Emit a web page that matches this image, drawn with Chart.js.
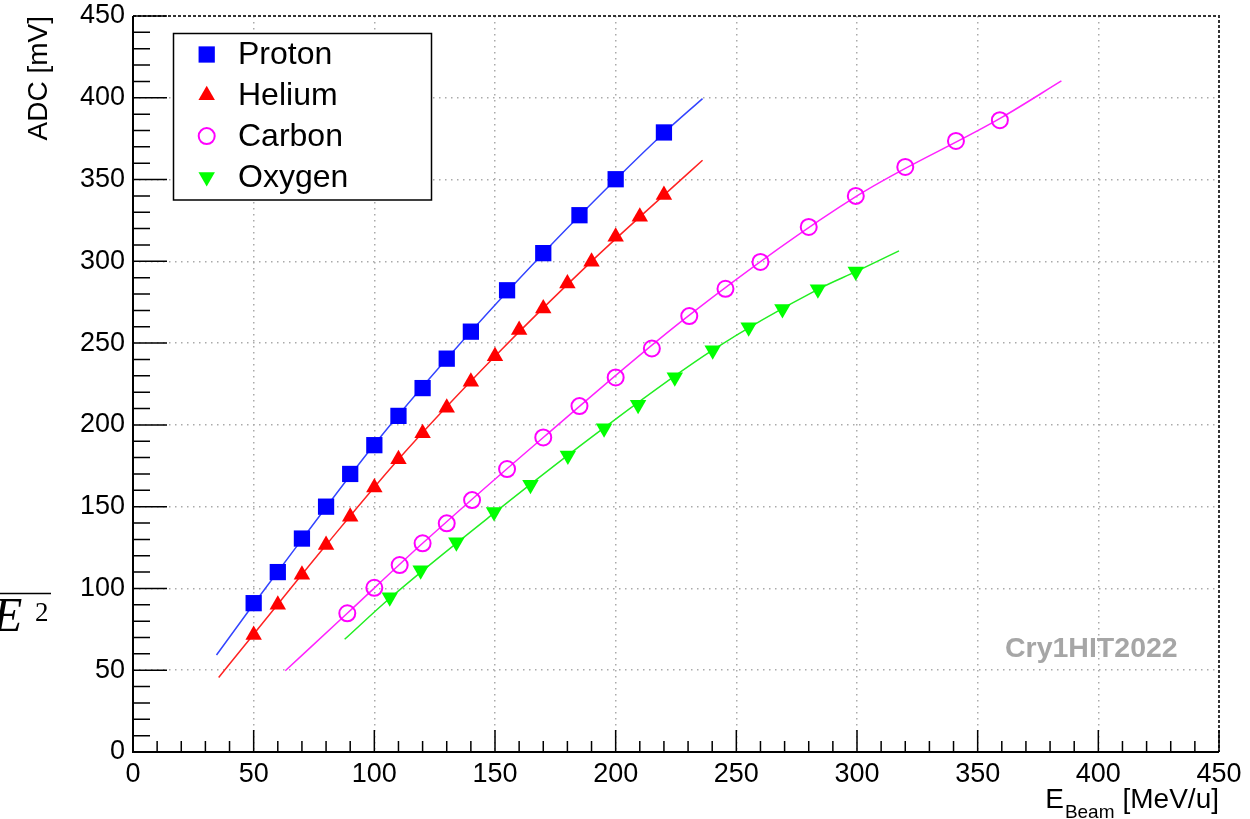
<!DOCTYPE html>
<html>
<head>
<meta charset="utf-8">
<title>ADC vs beam energy</title>
<script src="https://cdn.jsdelivr.net/npm/chart.js@4.4.1/dist/chart.umd.min.js"></script>
<style>
  html, body { margin: 0; padding: 0; background: #fff; }
  #wrap { position: relative; width: 1250px; height: 819px; }
</style>
</head>
<body>
<div id="wrap"><canvas id="chart" width="1250" height="819"></canvas></div>
<script>
// beam energy [MeV/u] and ADC amplitude [mV]
const protonE = [50, 60, 70, 80, 90, 100, 110, 120, 130, 140, 155, 170, 185, 200, 220];
const protonADC = [91, 110, 130.5, 150, 170, 187.6, 205.5, 222.5, 240.5, 257, 282.3, 305, 328.2, 350.2, 378.8];

const heliumE = [50, 60, 70, 80, 90, 100, 110, 120, 130, 140, 150, 160, 170, 180, 190, 200, 210, 220];
const heliumADC = [71.6, 90, 108.3, 126.6, 143.9, 161.7, 179, 194.9, 210.5, 226.4, 242, 258, 271.2, 286.5, 299.8, 315.1, 327.3, 340.5];

const carbonE = [88.8, 100, 110.5, 120, 130, 140.5, 155, 170, 185, 200, 215, 230.5, 245.5, 260, 280, 299.5, 320, 341, 359.2];
const carbonADC = [84.8, 100.4, 114.3, 127.6, 139.8, 154, 173, 192.3, 211.5, 229, 246.7, 266.5, 283.2, 299.6, 321, 340, 357.7, 373.6, 386.3];

const oxygenE = [106.4, 119.2, 134, 149.6, 164.7, 180.2, 195.2, 209.3, 224.5, 240.2, 255.1, 269.1, 283.8, 299.5];
const oxygenADC = [94.6, 111.1, 128.2, 146.7, 163.4, 181.3, 198, 212.3, 229.2, 245.7, 259.7, 270.9, 282.9, 293.8];

// fit curves, sampled along the drawn lines
const protonFitE = [34.6, 50, 70, 100, 130, 170, 200, 220, 236];
const protonFitADC = [59.3, 90.5, 130, 188, 240.5, 305, 350, 378.5, 399.5];
const heliumFitE = [35.5, 50, 80, 110, 150, 190, 220, 236];
const heliumFitADC = [45.6, 72, 126.5, 179, 242, 300, 340.5, 361.8];
const carbonFitE = [63.1, 88.8, 120, 170, 230, 300, 360, 384.7];
const carbonFitADC = [49.7, 84.8, 127.6, 192.3, 266.5, 340, 388, 410.3];
const oxygenFitE = [87.7, 106.4, 150, 195, 240, 284, 300, 317.4];
const oxygenFitADC = [68.9, 94, 146.5, 198, 245.5, 283, 294, 306.4];

const axisMin = 0;
const axisMax = 450;
const majorStep = 50;
const minorStep = 10;

const toPoints = (xs, ys) => xs.map((x, i) => ({ x: x, y: ys[i] }));

const FONT = '"Liberation Sans", Arial, Helvetica, sans-serif';

const markerSets = [
  { label: "Proton", data: toPoints(protonE, protonADC), pointStyle: "rect", pointRadius: 11.5,
    backgroundColor: "#0000ff", borderColor: "#0000ff", pointBorderWidth: 0, rotation: 0 },
  { label: "Helium", data: toPoints(heliumE, heliumADC), pointStyle: "triangle", pointRadius: 9.5,
    backgroundColor: "#ff0000", borderColor: "#ff0000", pointBorderWidth: 0, rotation: 0 },
  { label: "Carbon", data: toPoints(carbonE, carbonADC), pointStyle: "circle", pointRadius: 8,
    backgroundColor: "rgba(0,0,0,0)", borderColor: "#ff00ff", pointBorderWidth: 2, rotation: 0 },
  { label: "Oxygen", data: toPoints(oxygenE, oxygenADC), pointStyle: "triangle", pointRadius: 9.5,
    backgroundColor: "#00ff00", borderColor: "#00ff00", pointBorderWidth: 0, rotation: 180 },
];

const fitSets = [
  { data: toPoints(protonFitE, protonFitADC), color: "#3344ff" },
  { data: toPoints(heliumFitE, heliumFitADC), color: "#ff2222" },
  { data: toPoints(carbonFitE, carbonFitADC), color: "#ff22ff" },
  { data: toPoints(oxygenFitE, oxygenFitADC), color: "#22ee22" },
];

// frame, inward ticks, legend box and the extra labels
const decorations = {
  id: "decorations",
  afterDatasetsDraw(chart) {
    const ctx = chart.ctx;
    const a = chart.chartArea;
    const xs = chart.scales.x;
    const ys = chart.scales.y;
    ctx.save();

    // top / right frame: dashed
    ctx.strokeStyle = "#333";
    ctx.lineWidth = 2;
    ctx.setLineDash([3, 2]);
    ctx.beginPath();
    ctx.moveTo(a.left, a.top);
    ctx.lineTo(a.right, a.top);
    ctx.lineTo(a.right, a.bottom);
    ctx.stroke();

    // left / bottom axes: solid
    ctx.setLineDash([]);
    ctx.strokeStyle = "#000";
    ctx.beginPath();
    ctx.moveTo(a.left, a.top);
    ctx.lineTo(a.left, a.bottom);
    ctx.lineTo(a.right, a.bottom);
    ctx.stroke();

    // ticks pointing into the plot
    ctx.lineWidth = 1.5;
    ctx.beginPath();
    for (let v = axisMin; v <= axisMax; v += minorStep) {
      const major = v % majorStep === 0;
      const px = xs.getPixelForValue(v);
      ctx.moveTo(px, a.bottom);
      ctx.lineTo(px, a.bottom - (major ? 22 : 11));
      const py = ys.getPixelForValue(v);
      ctx.moveTo(a.left, py);
      ctx.lineTo(a.left + (major ? 34 : 17), py);
    }
    ctx.stroke();

    // legend
    const lx = 173.5, ly = 33.5, lw = 258, lh = 166.5;
    ctx.fillStyle = "#fff";
    ctx.fillRect(lx, ly, lw, lh);
    ctx.strokeStyle = "#000";
    ctx.lineWidth = 1.5;
    ctx.strokeRect(lx, ly, lw, lh);
    ctx.font = "32px " + FONT;
    ctx.textBaseline = "middle";
    ctx.textAlign = "left";
    markerSets.forEach((s, i) => {
      const cy = 54.5 + i * 40.8;
      ctx.fillStyle = s.backgroundColor;
      ctx.strokeStyle = s.borderColor;
      ctx.lineWidth = s.pointBorderWidth;
      Chart.helpers.drawPoint(ctx, {
        pointStyle: s.pointStyle, radius: s.pointRadius,
        rotation: s.rotation, borderWidth: s.pointBorderWidth
      }, 206.7, cy);
      ctx.fillStyle = "#000";
      ctx.fillText(s.label, 238, cy + 1);
    });

    // watermark
    ctx.fillStyle = "#a6a6a6";
    ctx.font = "bold 28.5px " + FONT;
    ctx.textBaseline = "alphabetic";
    ctx.fillText("Cry1HIT2022", 1005, 657);

    // x axis title with subscript, right aligned to the frame
    ctx.fillStyle = "#000";
    ctx.font = "28px " + FONT;
    const unit = "[MeV/u]";
    const xUnit = a.right - ctx.measureText(unit).width;
    ctx.fillText(unit, xUnit, 808);
    ctx.font = "19px " + FONT;
    const xBeam = xUnit - 8 - ctx.measureText("Beam").width;
    ctx.fillText("Beam", xBeam, 818);
    ctx.font = "28px " + FONT;
    ctx.fillText("E", xBeam - ctx.measureText("E").width - 1, 808);

    // y axis title, rotated, ending at the top of the frame
    ctx.save();
    ctx.translate(47, a.top);
    ctx.rotate(-Math.PI / 2);
    ctx.textAlign = "right";
    ctx.fillText("ADC [mV]", 0, 0);
    ctx.restore();

    // stray formula fragment at the left edge
    ctx.strokeStyle = "#000";
    ctx.lineWidth = 1.5;
    ctx.beginPath();
    ctx.moveTo(0, 593.5);
    ctx.lineTo(51, 593.5);
    ctx.stroke();
    ctx.font = 'italic 48px "Liberation Serif", serif';
    ctx.fillText("E", -7, 631);
    ctx.font = '27px "Liberation Serif", serif';
    ctx.fillText("2", 35, 621);

    ctx.restore();
  }
};

const ctx = document.getElementById("chart").getContext("2d");

new Chart(ctx, {
  type: "scatter",
  data: {
    datasets: [
      ...markerSets.map((s) => ({
        label: s.label,
        data: s.data,
        showLine: false,
        pointStyle: s.pointStyle,
        pointRadius: s.pointRadius,
        pointRotation: s.rotation,
        pointBackgroundColor: s.backgroundColor,
        pointBorderColor: s.borderColor,
        pointBorderWidth: s.pointBorderWidth,
      })),
      ...fitSets.map((f) => ({
        label: "fit",
        data: f.data,
        showLine: true,
        borderColor: f.color,
        borderWidth: 1.5,
        pointRadius: 0,
        fill: false,
        cubicInterpolationMode: "monotone",
      })),
    ],
  },
  options: {
    responsive: false,
    animation: false,
    events: [],
    layout: { padding: { left: 0, right: 31, top: 16, bottom: 0 } },
    plugins: {
      legend: { display: false },
      tooltip: { enabled: false },
    },
    scales: {
      x: {
        type: "linear",
        min: axisMin,
        max: axisMax,
        afterFit: (scale) => { scale.height = 67; scale.paddingLeft = 0; scale.paddingRight = 0; },
        ticks: { stepSize: majorStep, color: "#000", padding: 6, maxRotation: 0,
          font: { family: FONT, size: 27 } },
        grid: {
          drawTicks: false,
          lineWidth: 1.5,
          color: (c) => (c.tick && (c.tick.value === axisMin || c.tick.value === axisMax)) ? "rgba(0,0,0,0)" : "#aaaaaa",
        },
        border: { display: false, dash: [1.5, 4.5] },
      },
      y: {
        type: "linear",
        min: axisMin,
        max: axisMax,
        afterFit: (scale) => { scale.width = 133; scale.paddingTop = 0; scale.paddingBottom = 0; },
        ticks: { stepSize: majorStep, color: "#000", padding: 8,
          font: { family: FONT, size: 27 } },
        grid: {
          drawTicks: false,
          lineWidth: 1.5,
          color: (c) => (c.tick && (c.tick.value === axisMin || c.tick.value === axisMax)) ? "rgba(0,0,0,0)" : "#aaaaaa",
        },
        border: { display: false, dash: [1.5, 4.5] },
      },
    },
  },
  plugins: [decorations],
});
</script>
</body>
</html>
